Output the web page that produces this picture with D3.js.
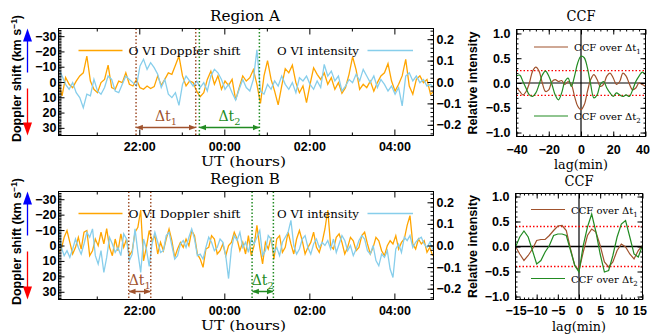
<!DOCTYPE html>
<html>
<head>
<meta charset="utf-8">
<script src="https://cdn.jsdelivr.net/npm/d3@7"></script>
<style>
  body { margin: 0; background: #fff; }
  svg { display: block; }
</style>
</head>
<body>
<script>
// ---- data (hours relative to 00:00 UT) ----
const timeDomain = [-3.9, 4.92];
const timeTicks = [-2, 0, 2, 4];
const timeLabels = ['22:00', '00:00', '02:00', '04:00'];
const timeMinor = [-3, -1, 1, 3];

// Region A, 5 min cadence
const startA = -3.9;
const stepA = 5 / 60;
const dopplerA = [
  0.4, 9, -3, 1.5, 3.7, -0.6, -4, -6, -17, -0.6,
  4.8, 7, 0.4, -1.7, -11, 3.7, 4.8, -0.6, 0.4, -6,
  1.5, 2.6, -1.7, 3.7, 4.8, 2.6, 4.3, 3, -4, 2.2,
  -1.7, -6, -5, -11, -17, -4, 2.6, -0.6, 0.4, 6,
  9.6, 7, -1.7, -7, 1.5, -4, 4.8, -0.6, 2.2, -1.7,
  11.7, 3.7, -4, -0.6, -2.8, -8, 1.5, 14, -4, -14,
  -1.7, 6, 15, 2.6, -8.7, -6, -11, 0.4, 7, 2.6,
  13.5, 1.5, -9.3, -5, -1.7, -6, 1.5, -2.8, 4.8, 0.4,
  7.4, 3.7, -5, -16.5, -8, 4.8, 1.5, 3.7, -0.6, 6,
  0.4, -4, -6, -12, -0.6, 6, 1.5, -4, -14.8, 2.6,
  8, -1.7, -4, 0.4, -1.7, 8, 6
];
const intensityA = [
  0.067, 0.028, -0.011, -0.034, -0.003, -0.05, -0.073, -0.12, -0.057, -0.065,
  0.012, -0.042, -0.057, -0.026, 0.028, 0.012, -0.042, -0.05, -0.011, 0.028,
  0.012, -0.003, -0.019, 0.075, 0.106, 0.059, 0.09, 0.067, 0.036, -0.026,
  0.012, -0.057, -0.073, -0.05, -0.109, -0.011, 0.028, 0.005, -0.019, 0.005,
  -0.026, -0.003, -0.042, 0.028, 0.059, 0.043, 0.012, -0.034, -0.011, -0.05,
  -0.084, -0.034, 0.012, -0.026, -0.042, 0.012, 0.15, -0.042, -0.057, -0.011,
  -0.034, 0.005, -0.019, 0.028, -0.011, -0.034, -0.003, -0.05, 0.02, 0.005,
  0.028, -0.011, -0.034, 0.005, -0.026, 0.082, 0.028, 0.051, 0.005, 0.028,
  -0.042, -0.019, 0.012, -0.003, 0.036, 0.005, 0.059, 0.028, -0.003, 0.028,
  -0.026, 0.012, -0.011, -0.042, -0.019, -0.057, -0.026, -0.112, 0.028, 0.043,
  0.005, 0.028, -0.003, 0.012, -0.019, -0.011, -0.026
];
const intervalsA = [[-2.076, -0.672], [-0.587, 0.825]];

// Region B, 4 min cadence
const startB = -3.9;
const stepB = 4 / 60;
const dopplerB = [
  4.4, 2.3, -5.3, -9.7, -2, 5.5, 1.2, -5.3, 2.3, -8.6,
  -9.7, 6.6, 3.4, -4.2, 0.1, -8.6, -1, -11, 1.2, 6.6,
  -4.2, 3.4, -7.5, 1.2, -4.2, 6.6, 3.4, -8.6, -11.8, -23,
  9.9, 1.2, -9.7, -3.1, -6.4, 5.5, -2, 3.4, -4.2, -10.7,
  -3.1, 7.7, 2.3, -2, 1.2, -4.2, 0.1, -9.7, -6.4, 5.5,
  8.8, 14.2, 2.3, 1.2, -6.4, -4.2, 5.5, 3.4, -1, 6.6,
  0.1, -2, -8.6, -4.2, 3.4, -2, 5.5, -6.4, 6.6, 0.1,
  -13, 1.2, 12, -2, 2.3, -5.3, 8.8, -4.2, -6.4, 4.4,
  1.2, -8.6, -1, 5.5, -4.2, -9.7, -3.1, 5.5, 1.2, -2,
  -8.6, 1.2, 4.4, -2, -10.7, -23, 0.1, 2.3, -5.3, -7.5,
  -2, 5.5, 1.2, -5.3, -3.1, 3.4, 1.2, -6.4, -8.6, -1,
  5.5, 1.2, -5.3, -3.1, 3.4, 6.6, 0.1, -3.1, -1, -6.4,
  2.3, -2, -4.2, -13, -19.4, -1, 2.3, -4.2, -1, -3.1,
  4.4, 1.2, 6.6
];
const intensityB = [
  0.1, -0.009, -0.047, -0.024, -0.055, -0.016, 0.03, -0.009, -0.04, 0.007,
  0.061, 0.038, 0.077, -0.047, -0.086, -0.024, -0.125, -0.055, 0.038, 0.007,
  -0.032, -0.009, -0.047, 0.054, 0.03, -0.07, -0.04, 0.077, -0.032, -0.125,
  0.03, -0.016, -0.097, 0.007, 0.061, 0.015, -0.032, -0.024, 0.046, 0.061,
  0, -0.063, -0.047, 0.007, 0.023, -0.009, 0.038, 0.077, 0.03, -0.047,
  -0.04, -0.063, -0.009, 0.038, 0.015, -0.024, -0.009, 0.03, 0.015, -0.047,
  -0.153, -0.016, 0.046, 0.023, 0.061, -0.009, 0.015, -0.032, 0.03, 0.007,
  0.038, 0.069, -0.047, -0.024, 0.046, 0.03, -0.032, -0.009, -0.047, 0.015,
  0.038, 0.061, 0.116, 0, -0.04, -0.016, 0.03, 0.046, -0.009, -0.04,
  0.007, 0.03, -0.009, 0.015, 0, 0.023, -0.016, 0.03, -0.032, 0.007,
  0.046, 0.023, -0.024, 0, -0.047, -0.016, 0.023, 0.046, 0.03, -0.024,
  -0.04, 0, -0.07, -0.094, -0.04, -0.055, -0.024, -0.109, -0.148, -0.016,
  0.007, -0.032, 0.038, 0.023, 0.046, -0.009, 0.015, 0.03, 0.038, 0.007,
  -0.009, 0.015, -0.016
];
const intervalsB = [[-2.248, -1.73], [0.653, 1.154]];

// cross-correlation, lag in minutes
const lagsA = d3.range(-40, 41, 2);
const ccfA1 = [
  -0.09, -0.17, -0.24, -0.17, 0, 0.24, 0.32, 0.24, 0, -0.17,
  -0.14, 0.03, 0.07, 0.03, 0.05, -0.03, 0.03, -0.03, -0.27, -0.47,
  -0.54, -0.44, -0.17, 0.07, 0.17, 0.07, -0.07, -0.03, 0.14, 0.2,
  0.1, -0.03, 0.03, 0.2, 0.14, -0.02, -0.14, -0.1, 0, -0.03,
  -0.07
];
const ccfA2 = [
  0.14, 0.16, 0.03, -0.11, -0.24, -0.27, -0.2, -0.03, 0.16, 0.24,
  0.14, -0.03, -0.24, -0.34, -0.2, 0.03, 0.1, -0.07, 0.14, 0.41,
  0.54, 0.51, 0.3, -0.03, -0.3, -0.24, -0.03, 0.03, -0.1, -0.2,
  -0.27, -0.2, -0.24, -0.27, -0.24, -0.27, -0.14, 0.03, 0.14, 0.22,
  0.17
];
const sigA = 0.25;

const lagsB = d3.range(-15, 16, 1);
const ccfB1 = [
  0, -0.15, -0.28, -0.18, -0.05, 0.12, 0.14, 0.14, 0.22, 0.32,
  0.41, 0.42, 0.32, -0.05, -0.38, -0.48, -0.11, 0.22, 0.35, 0.29,
  0.02, -0.31, -0.41, -0.31, -0.08, 0.05, -0.01, -0.15, -0.25, -0.08,
  0.02
];
const ccfB2 = [
  -0.01, 0.19, 0.31, 0.19, -0.08, -0.35, -0.28, -0.11, 0.02, 0.22,
  0.25, 0.25, 0.22, -0.08, -0.38, -0.51, 0.02, 0.39, 0.65, 0.29,
  -0.15, -0.51, -0.48, -0.18, 0.19, 0.45, 0.52, 0.19, -0.15, -0.21,
  0.02
];
const sigB = 0.4;

// ---- colours / fonts ----
const cOrange = '#ffa500';
const cBlue = '#87ceeb';
const cBrown = '#a0522d';
const cGreen = '#228b22';
const sans = '"Liberation Sans", Arial, sans-serif';
const serif = '"DejaVu Serif", serif';

const svg = d3.select('body').append('svg')
  .attr('width', 651)
  .attr('height', 334);
svg.append('rect').attr('width', 651).attr('height', 334).attr('fill', '#fff');

const defs = svg.append('defs');
function marker(id, color) {
  defs.append('marker')
    .attr('id', id)
    .attr('viewBox', '0 0 10 10')
    .attr('refX', 9).attr('refY', 5)
    .attr('markerWidth', 7).attr('markerHeight', 7)
    .attr('markerUnits', 'userSpaceOnUse')
    .attr('orient', 'auto-start-reverse')
    .append('path').attr('d', 'M0,1L10,5L0,9Z').attr('fill', color);
}
marker('arrBrown', cBrown);
marker('arrGreen', cGreen);

// strip domain line, set tick style
function clean(g) {
  g.select('.domain').remove();
  g.selectAll('line').attr('stroke', '#000');
  g.attr('font-family', sans).attr('font-size', 12.5).attr('font-weight', 'bold');
  g.selectAll('text').attr('fill', '#000');
}

function subText(g, x, y, main, sub, color, size, anchor) {
  const t = g.append('text')
    .attr('x', x).attr('y', y)
    .attr('text-anchor', anchor)
    .attr('font-family', serif)
    .attr('font-size', size)
    .attr('fill', color)
    .text(main);
  t.append('tspan').attr('dy', size * 0.3).attr('font-size', size * 0.7).text(sub);
  return t;
}

function drawSeries(o) {
  const x = d3.scaleLinear().domain(timeDomain).range([58.5, 433.5]);
  const yL = d3.scaleLinear().domain([-35, 35]).range([o.top, o.bottom]);
  const yR = d3.scaleLinear().domain([-0.25, 0.25]).range([o.bottom, o.top]);
  const [x0, x1] = x.range();
  const g = svg.append('g');

  defs.append('clipPath').attr('id', o.id)
    .append('rect').attr('x', x0).attr('y', o.top).attr('width', x1 - x0).attr('height', o.bottom - o.top);

  const tx = i => x(o.t0 + i * o.step);
  const plot = g.append('g').attr('clip-path', `url(#${o.id})`);
  plot.append('path').datum(o.doppler)
    .attr('d', d3.line().x((d, i) => tx(i)).y(d => yL(d)))
    .attr('fill', 'none').attr('stroke', cOrange).attr('stroke-width', 1.3);
  plot.append('path').datum(o.intensity)
    .attr('d', d3.line().x((d, i) => tx(i)).y(d => yR(d)))
    .attr('fill', 'none').attr('stroke', cBlue).attr('stroke-width', 1.3);

  // intervals
  o.intervals.forEach(([a, b], k) => {
    const col = k === 0 ? cBrown : cGreen;
    [a, b].forEach(t => {
      g.append('line')
        .attr('x1', x(t)).attr('x2', x(t))
        .attr('y1', o.top).attr('y2', o.bottom)
        .attr('stroke', col).attr('stroke-width', 1.5)
        .attr('stroke-dasharray', '1.5,2');
    });
    g.append('line')
      .attr('x1', x(a) + 0.5).attr('x2', x(b) - 0.5)
      .attr('y1', o.bottom - 8).attr('y2', o.bottom - 8)
      .attr('stroke', col).attr('stroke-width', 1.5)
      .attr('marker-start', `url(#${k === 0 ? 'arrBrown' : 'arrGreen'})`)
      .attr('marker-end', `url(#${k === 0 ? 'arrBrown' : 'arrGreen'})`);
    subText(g, (x(a) + x(b)) / 2, o.bottom - 15, '\u0394t', String(k + 1), col, 14, 'middle');
  });

  // legend
  g.append('line').attr('x1', 78.5).attr('x2', 122.5).attr('y1', o.top + 22).attr('y2', o.top + 22)
    .attr('stroke', cOrange).attr('stroke-width', 1.5);
  g.append('text').attr('x', 128.5).attr('y', o.top + 26)
    .attr('font-family', serif).attr('font-size', 11.5)
    .attr('textLength', 112).attr('lengthAdjust', 'spacingAndGlyphs')
    .text('O VI Doppler shift');
  g.append('text').attr('x', 277).attr('y', o.top + 26)
    .attr('font-family', serif).attr('font-size', 11.5)
    .attr('textLength', 82).attr('lengthAdjust', 'spacingAndGlyphs')
    .text('O VI intensity');
  g.append('line').attr('x1', 367.5).attr('x2', 413).attr('y1', o.top + 22).attr('y2', o.top + 22)
    .attr('stroke', cBlue).attr('stroke-width', 1.5);

  // axes
  g.append('g').attr('transform', `translate(0,${o.bottom})`)
    .call(d3.axisBottom(x).tickValues(timeTicks).tickFormat((d, i) => timeLabels[i])
      .tickSizeInner(-6).tickSizeOuter(0).tickPadding(7))
    .call(clean);
  g.append('g').attr('transform', `translate(0,${o.bottom})`)
    .call(d3.axisBottom(x).tickValues(timeMinor).tickFormat('').tickSizeInner(-3).tickSizeOuter(0))
    .call(clean);
  g.append('g').attr('transform', `translate(0,${o.top})`)
    .call(d3.axisTop(x).tickValues(timeTicks).tickFormat('').tickSizeInner(-6).tickSizeOuter(0))
    .call(clean);
  g.append('g').attr('transform', `translate(0,${o.top})`)
    .call(d3.axisTop(x).tickValues(timeMinor).tickFormat('').tickSizeInner(-3).tickSizeOuter(0))
    .call(clean);
  g.append('g').attr('transform', `translate(${x0},0)`)
    .call(d3.axisLeft(yL).tickValues(d3.range(-30, 31, 10)).tickFormat(d3.format('d'))
      .tickSizeInner(-6).tickSizeOuter(0).tickPadding(2))
    .call(clean);
  g.append('g').attr('transform', `translate(${x0},0)`)
    .call(d3.axisLeft(yL).tickValues(d3.range(-34, 35, 1)).tickFormat('').tickSizeInner(-3).tickSizeOuter(0))
    .call(clean);
  g.append('g').attr('transform', `translate(${x1},0)`)
    .call(d3.axisRight(yR).tickValues([-0.2, -0.1, 0, 0.1, 0.2]).tickFormat(d3.format('.1f'))
      .tickSizeInner(-6).tickSizeOuter(0).tickPadding(3))
    .call(clean);
  g.append('g').attr('transform', `translate(${x1},0)`)
    .call(d3.axisRight(yR).tickValues(d3.range(-0.24, 0.25, 0.02)).tickFormat('').tickSizeInner(-3).tickSizeOuter(0))
    .call(clean);

  g.append('rect').attr('x', x0).attr('y', o.top).attr('width', x1 - x0).attr('height', o.bottom - o.top)
    .attr('fill', 'none').attr('stroke', '#000').attr('stroke-width', 1);

  // titles
  g.append('text').attr('x', 245).attr('y', o.top - 8).attr('text-anchor', 'middle')
    .attr('font-family', serif).attr('font-size', 14.5)
    .attr('textLength', 70).attr('lengthAdjust', 'spacingAndGlyphs')
    .text(o.title);
  g.append('text').attr('x', 243.5).attr('y', o.bottom + 30.5).attr('text-anchor', 'middle')
    .attr('font-family', serif).attr('font-size', 12.5)
    .attr('textLength', 85).attr('lengthAdjust', 'spacingAndGlyphs')
    .text('UT (hours)');

  // y label with direction arrows
  const lab = g.append('text')
    .attr('transform', `translate(21,${o.top + 50}) rotate(-90)`)
    .attr('text-anchor', 'middle')
    .attr('font-family', sans).attr('font-size', 12.5).attr('font-weight', 'bold')
    .text('Doppler shift (km s');
  lab.append('tspan').attr('dy', -4).attr('font-size', 8.5).text('\u22121');
  lab.append('tspan').attr('dy', 4).text(')');

  g.append('line').attr('x1', 27.5).attr('x2', 27.5).attr('y1', o.top + 44).attr('y2', o.top + 11)
    .attr('stroke', 'blue').attr('stroke-width', 1.3);
  g.append('path').attr('d', `M27.5,${o.top}L23,${o.top + 13}L32,${o.top + 13}Z`).attr('fill', 'blue');
  g.append('line').attr('x1', 27.5).attr('x2', 27.5).attr('y1', o.top + 60).attr('y2', o.bottom - 11)
    .attr('stroke', 'red').attr('stroke-width', 1.3);
  g.append('path').attr('d', `M27.5,${o.bottom}L23,${o.bottom - 13}L32,${o.bottom - 13}Z`).attr('fill', 'red');
}

function drawCCF(o) {
  const x = d3.scaleLinear().domain(o.lagDomain).range([o.left, o.right]);
  const y = d3.scaleLinear().domain([-o.yMax, o.yMax]).range([o.bottom, o.top]);
  const g = svg.append('g');

  defs.append('clipPath').attr('id', o.id)
    .append('rect').attr('x', o.left).attr('y', o.top).attr('width', o.right - o.left).attr('height', o.bottom - o.top);
  const plot = g.append('g').attr('clip-path', `url(#${o.id})`);

  plot.append('line').attr('x1', o.left).attr('x2', o.right).attr('y1', y(0)).attr('y2', y(0))
    .attr('stroke', o.zeroColor).attr('stroke-width', 1.3);
  plot.append('line').attr('x1', x(0)).attr('x2', x(0)).attr('y1', o.top).attr('y2', o.bottom)
    .attr('stroke', '#000').attr('stroke-width', 1.2);
  [o.sig, -o.sig].forEach(s => {
    plot.append('line').attr('x1', o.left).attr('x2', o.right).attr('y1', y(s)).attr('y2', y(s))
      .attr('stroke', 'red').attr('stroke-width', 1.3).attr('stroke-dasharray', '1.5,2');
  });

  const line = d3.line().x((d, i) => x(o.lags[i])).y(d => y(d)).curve(o.curve);
  plot.append('path').datum(o.c1).attr('d', line).attr('fill', 'none').attr('stroke', cBrown).attr('stroke-width', 1.2);
  plot.append('path').datum(o.c2).attr('d', line).attr('fill', 'none').attr('stroke', cGreen).attr('stroke-width', 1.2);

  // legend
  g.append('line').attr('x1', o.legX).attr('x2', o.legX + 34).attr('y1', o.legY1).attr('y2', o.legY1)
    .attr('stroke', cBrown).attr('stroke-width', 1.2);
  subText(g, o.legX + 40, o.legY1 + 4, 'CCF over \u0394t', '1', '#000', 10, 'start');
  g.append('line').attr('x1', o.legX).attr('x2', o.legX + 34).attr('y1', o.legY2).attr('y2', o.legY2)
    .attr('stroke', cGreen).attr('stroke-width', 1.2);
  subText(g, o.legX + 40, o.legY2 + 4, 'CCF over \u0394t', '2', '#000', 10, 'start');

  // axes
  const last = o.xTicks[o.xTicks.length - 1];
  g.append('g').attr('transform', `translate(0,${o.bottom})`)
    .call(d3.axisBottom(x).tickValues(o.xTicks).tickFormat(d3.format('d'))
      .tickSizeInner(-5).tickSizeOuter(0).tickPadding(o.xPad))
    .call(clean)
    .call(ax => ax.selectAll('.tick text').filter(d => d === last).attr('dx', -3));
  g.append('g').attr('transform', `translate(0,${o.bottom})`)
    .call(d3.axisBottom(x).tickValues(o.xMinor).tickFormat('').tickSizeInner(-2).tickSizeOuter(0))
    .call(clean);
  g.append('g').attr('transform', `translate(0,${o.top})`)
    .call(d3.axisTop(x).tickValues(o.xTicks).tickFormat('').tickSizeInner(-5).tickSizeOuter(0))
    .call(clean);
  g.append('g').attr('transform', `translate(0,${o.top})`)
    .call(d3.axisTop(x).tickValues(o.xMinor).tickFormat('').tickSizeInner(-2).tickSizeOuter(0))
    .call(clean);
  g.append('g').attr('transform', `translate(${o.left},0)`)
    .call(d3.axisLeft(y).tickValues([-1, -0.5, 0, 0.5, 1]).tickFormat(d3.format('.1f'))
      .tickSizeInner(-5).tickSizeOuter(0).tickPadding(6))
    .call(clean);
  g.append('g').attr('transform', `translate(${o.left},0)`)
    .call(d3.axisLeft(y).tickValues(d3.range(-1, 1.01, 0.1)).tickFormat('').tickSizeInner(-2).tickSizeOuter(0))
    .call(clean);
  g.append('g').attr('transform', `translate(${o.right},0)`)
    .call(d3.axisRight(y).tickValues([-1, -0.5, 0, 0.5, 1]).tickFormat('').tickSizeInner(-5).tickSizeOuter(0))
    .call(clean);
  g.append('g').attr('transform', `translate(${o.right},0)`)
    .call(d3.axisRight(y).tickValues(d3.range(-1, 1.01, 0.1)).tickFormat('').tickSizeInner(-2).tickSizeOuter(0))
    .call(clean);

  g.append('rect').attr('x', o.left).attr('y', o.top).attr('width', o.right - o.left).attr('height', o.bottom - o.top)
    .attr('fill', 'none').attr('stroke', '#000').attr('stroke-width', 1);

  const cx = (o.left + o.right) / 2;
  g.append('text').attr('x', cx).attr('y', o.titleY).attr('text-anchor', 'middle')
    .attr('font-family', serif).attr('font-size', 14.5)
    .attr('textLength', 29).attr('lengthAdjust', 'spacingAndGlyphs')
    .text('CCF');
  g.append('text').attr('x', cx).attr('y', o.labY).attr('text-anchor', 'middle')
    .attr('font-family', serif).attr('font-size', 13)
    .attr('textLength', 54).attr('lengthAdjust', 'spacingAndGlyphs')
    .text('lag(min)');
  g.append('text')
    .attr('transform', `translate(477,${(o.top + o.bottom) / 2}) rotate(-90)`)
    .attr('text-anchor', 'middle')
    .attr('font-family', sans).attr('font-size', 12.5).attr('font-weight', 'bold')
    .text('Relative intensity');
}

drawSeries({
  id: 'clipA', title: 'Region A', top: 28.5, bottom: 135.5,
  t0: startA, step: stepA, doppler: dopplerA, intensity: intensityA, intervals: intervalsA
});
drawSeries({
  id: 'clipB', title: 'Region B', top: 191.5, bottom: 299.5,
  t0: startB, step: stepB, doppler: dopplerB, intensity: intensityB, intervals: intervalsB
});

drawCCF({
  id: 'clipCA', left: 516.5, right: 645.5, top: 29.5, bottom: 136.5, yMax: 1.08,
  lagDomain: [-40, 40], lags: lagsA, c1: ccfA1, c2: ccfA2, sig: sigA,
  curve: d3.curveCatmullRom, zeroColor: '#555',
  xTicks: [-40, -20, 0, 20, 40], xMinor: d3.range(-36, 40, 4), xPad: 9,
  legX: 534, legY1: 47, legY2: 116, titleY: 20.5, labY: 168.5
});
drawCCF({
  id: 'clipCB', left: 515.5, right: 642.5, top: 193.5, bottom: 299.5, yMax: 1.06,
  lagDomain: [-15, 15], lags: lagsB, c1: ccfB1, c2: ccfB2, sig: sigB,
  curve: d3.curveLinear, zeroColor: '#000',
  xTicks: [-15, -10, -5, 0, 5, 10, 15], xMinor: d3.range(-14, 15, 1), xPad: 7,
  legX: 531, legY1: 209.5, legY2: 278.5, titleY: 186, labY: 331
});
</script>
</body>
</html>
